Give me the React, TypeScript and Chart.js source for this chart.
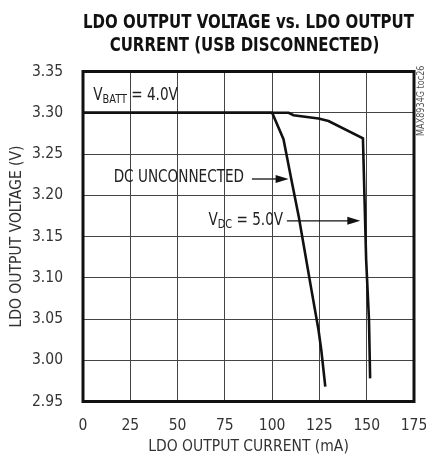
import React, { useEffect, useRef } from "react";
import { Chart, registerables } from "chart.js";

Chart.register(...registerables);

const FONT = "'DejaVu Sans Condensed', 'Liberation Sans', sans-serif";

const titleLines = ["LDO OUTPUT VOLTAGE vs. LDO OUTPUT", "CURRENT (USB DISCONNECTED)"];
const xAxisTitle = "LDO OUTPUT CURRENT (mA)";
const yAxisTitle = "LDO OUTPUT VOLTAGE (V)";
const sideNote = "MAX8934G toc26";

const xTicks = [0, 25, 50, 75, 100, 125, 150, 175];
const yTicks = [2.95, 3.0, 3.05, 3.1, 3.15, 3.2, 3.25, 3.3, 3.35];

// DC unconnected curve
const dcUnconnectedCurrent = [0, 100, 106, 110, 114, 117.1, 120.8, 124.5, 126, 128.1];
const dcUnconnectedVoltage = [3.3, 3.3, 3.268, 3.221, 3.175, 3.134, 3.085, 3.037, 3.012, 2.968];

// VDC = 5.0V curve
const vdc5Current = [0, 108.7, 111.3, 124.5, 129.8, 148, 149.7, 151.2, 151.8];
const vdc5Voltage = [3.3, 3.3, 3.297, 3.293, 3.29, 3.269, 3.122, 3.049, 2.978];

// annotation anchors (data coordinates)
const vbattLabel = { main: "V", sub: "BATT", rest: " = 4.0V", x: 5.4, y: 3.316 };
const dcLabel = { text: "DC UNCONNECTED", x: 16.2, y: 3.216 };
const dcArrow = { x1: 89.3, x2: 108.7, y: 3.2197 };
const vdcLabel = { main: "V", sub: "DC", rest: " = 5.0V", x: 66.3, y: 3.164 };
const vdcArrow = { x1: 107.8, x2: 146.6, y: 3.169 };

const TEXT_SQUEEZE = 0.84;

function toPts(xs: number[], ys: number[]) {
  return xs.map((x, i) => ({ x, y: ys[i] }));
}

const decorPlugin = {
  id: "decor",
  afterDraw(chart: any) {
    const { ctx, chartArea, scales } = chart;
    const xs = scales.x;
    const ys = scales.y;
    ctx.save();

    // frame
    ctx.strokeStyle = "#111";
    ctx.lineWidth = 3;
    ctx.strokeRect(chartArea.left, chartArea.top, chartArea.right - chartArea.left, chartArea.bottom - chartArea.top);

    // title (squeezed to condensed width)
    ctx.fillStyle = "#111";
    ctx.font = `bold 20px ${FONT}`;
    ctx.textAlign = "center";
    ctx.textBaseline = "alphabetic";
    const cx = (chartArea.left + chartArea.right) / 2;
    const w0 = ctx.measureText(titleLines[0]).width;
    const sq = (chartArea.right - chartArea.left) / w0;
    ctx.save();
    ctx.translate(cx, 27.5);
    ctx.scale(sq, 1);
    ctx.fillText(titleLines[0], 0, 0);
    ctx.restore();
    ctx.save();
    ctx.translate(cx - 4, 51);
    ctx.scale(sq, 1);
    ctx.fillText(titleLines[1], 0, 0);
    ctx.restore();

    // side note
    ctx.save();
    ctx.fillStyle = "#555";
    ctx.font = `10px ${FONT}`;
    ctx.translate(chartArea.right + 7.5, chartArea.top - 6);
    ctx.rotate(-Math.PI / 2);
    ctx.scale(0.9, 1);
    ctx.textAlign = "right";
    ctx.textBaseline = "middle";
    ctx.fillText(sideNote, 0, 0);
    ctx.restore();

    const drawSub = (lab: any) => {
      const px0 = xs.getPixelForValue(lab.x);
      const py = ys.getPixelForValue(lab.y);
      ctx.save();
      ctx.translate(px0, py);
      ctx.scale(TEXT_SQUEEZE, 1);
      ctx.textAlign = "left";
      ctx.textBaseline = "alphabetic";
      ctx.fillStyle = "#222";
      let px = 0;
      ctx.font = `18px ${FONT}`;
      ctx.fillText(lab.main, px, 0);
      px += ctx.measureText(lab.main).width;
      ctx.font = `13px ${FONT}`;
      ctx.fillText(lab.sub, px, 3);
      px += ctx.measureText(lab.sub).width;
      ctx.font = `18px ${FONT}`;
      ctx.fillText(lab.rest, px, 0);
      ctx.restore();
    };

    const drawArrow = (a: any) => {
      const x1 = xs.getPixelForValue(a.x1);
      const x2 = xs.getPixelForValue(a.x2);
      const y = ys.getPixelForValue(a.y);
      ctx.strokeStyle = "#111";
      ctx.lineWidth = 1.3;
      ctx.beginPath();
      ctx.moveTo(x1, y);
      ctx.lineTo(x2 - 8, y);
      ctx.stroke();
      ctx.fillStyle = "#111";
      ctx.beginPath();
      ctx.moveTo(x2, y);
      ctx.lineTo(x2 - 13, y - 4);
      ctx.lineTo(x2 - 13, y + 4);
      ctx.closePath();
      ctx.fill();
    };

    drawSub(vbattLabel);
    drawSub(vdcLabel);

    ctx.save();
    ctx.translate(xs.getPixelForValue(dcLabel.x), ys.getPixelForValue(dcLabel.y));
    ctx.scale(TEXT_SQUEEZE, 1);
    ctx.fillStyle = "#222";
    ctx.font = `18px ${FONT}`;
    ctx.textAlign = "left";
    ctx.textBaseline = "alphabetic";
    ctx.fillText(dcLabel.text, 0, 0);
    ctx.restore();

    drawArrow(dcArrow);
    drawArrow(vdcArrow);

    ctx.restore();
  },
};

export default function App() {
  const ref = useRef<HTMLCanvasElement | null>(null);

  useEffect(() => {
    document.body.style.margin = "0";
    const canvas = ref.current;
    if (!canvas) return;
    const chart = new Chart(canvas, {
      type: "scatter",
      data: {
        datasets: [
          {
            label: "DC UNCONNECTED",
            data: toPts(dcUnconnectedCurrent, dcUnconnectedVoltage),
            showLine: true,
            borderColor: "#111",
            borderWidth: 2.6,
            pointRadius: 0,
            tension: 0,
          },
          {
            label: "VDC = 5.0V",
            data: toPts(vdc5Current, vdc5Voltage),
            showLine: true,
            borderColor: "#111",
            borderWidth: 2.6,
            pointRadius: 0,
            tension: 0,
          },
        ],
      },
      options: {
        responsive: false,
        animation: false,
        layout: { padding: { top: 71.5, right: 12, left: 0, bottom: 0 } },
        plugins: {
          legend: { display: false },
          tooltip: { enabled: false },
          title: { display: false },
        },
        scales: {
          x: {
            type: "linear",
            min: 0,
            max: 175,
            afterBuildTicks: (s: any) => {
              s.ticks = xTicks.map((v) => ({ value: v }));
            },
            afterFit: (s: any) => {
              s.height = 59.5;
              s.paddingLeft = 0;
              s.paddingRight = 0;
            },
            grid: { color: "#444", lineWidth: 1, drawTicks: false },
            border: { display: false },
            ticks: {
              padding: 15,
              color: "#333",
              font: { family: FONT, size: 15.5 },
              maxRotation: 0,
              callback: (v: any) => String(v),
            },
            title: {
              display: true,
              text: xAxisTitle,
              color: "#333",
              font: { family: FONT, size: 15.5 },
              padding: { top: 0, bottom: 5 },
            },
          },
          y: {
            type: "linear",
            min: 2.95,
            max: 3.35,
            afterBuildTicks: (s: any) => {
              s.ticks = yTicks.map((v) => ({ value: v }));
            },
            afterFit: (s: any) => {
              s.width = 83;
              s.paddingTop = 0;
              s.paddingBottom = 0;
            },
            grid: { color: "#444", lineWidth: 1, drawTicks: false },
            border: { display: false },
            ticks: {
              padding: 20,
              color: "#333",
              font: { family: FONT, size: 15.5 },
              callback: (v: any) => Number(v).toFixed(2),
            },
            title: {
              display: true,
              text: yAxisTitle,
              color: "#333",
              font: { family: FONT, size: 15.5 },
              padding: { top: 8, bottom: 0 },
            },
          },
        },
      },
      plugins: [decorPlugin],
    });
    return () => chart.destroy();
  }, []);

  return <canvas ref={ref} width={426} height={461} style={{ display: "block", width: 426, height: 461 }} />;
}
